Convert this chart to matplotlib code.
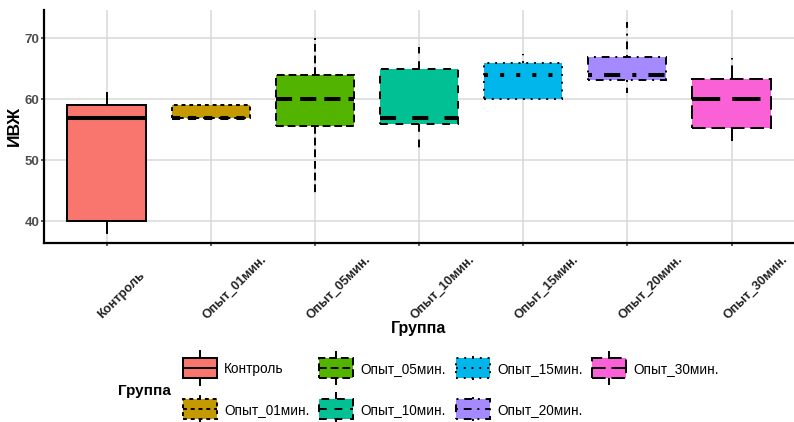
import matplotlib
matplotlib.use("Agg")
import matplotlib.pyplot as plt
from matplotlib.patches import Patch, Rectangle
from matplotlib.lines import Line2D
from matplotlib.legend_handler import HandlerBase
from matplotlib.transforms import ScaledTranslation

plt.rcParams["font.family"] = ["Liberation Sans", "DejaVu Sans"]

# Box statistics per group
groups = ["Контроль", "Опыт_01мин.", "Опыт_05мин.", "Опыт_10мин.",
          "Опыт_15мин.", "Опыт_20мин.", "Опыт_30мин."]
whislo = [38.1, 56.6, 44.1, 51.1, 60.0, 61.0, 53.2]
q1 = [40.1, 57.0, 55.7, 56.0, 60.0, 63.1, 55.3]
med = [57.0, 57.0, 60.0, 57.0, 64.0, 64.0, 60.0]
q3 = [59.0, 59.0, 64.0, 65.0, 66.0, 67.0, 63.4]
whishi = [61.0, 59.0, 70.0, 68.6, 67.4, 72.7, 66.8]

colors = ["#F8766D", "#C49A00", "#53B400", "#00C094", "#00B6EB", "#A58AFF", "#FB61D7"]
# ggplot-style line types, in units of line width
linetypes = ["-", (0, (2, 2)), (0, (4, 2)), (0, (4, 4)), (0, (1, 3)),
             (0, (1, 3, 4, 3)), (0, (7, 3))]

W, H, DPI = 794, 422, 100
PT = 72 / DPI  # points per pixel
fig = plt.figure(figsize=(W / DPI, H / DPI), dpi=DPI)
ax = fig.add_axes([44 / W, 1 - 243 / H, (W - 44) / W, (243 - 10) / H])

LW = 1.4
positions = list(range(1, len(groups) + 1))
for i, g in enumerate(groups):
    st = dict(med=med[i], q1=q1[i], q3=q3[i], whislo=whislo[i], whishi=whishi[i],
              fliers=[], label=g)
    ax.bxp([st], positions=[positions[i]], widths=0.75, patch_artist=True,
           showfliers=False, showcaps=False,
           boxprops=dict(facecolor=colors[i], edgecolor="black", linewidth=LW,
                         linestyle=linetypes[i]),
           whiskerprops=dict(color="black", linewidth=LW, linestyle=linetypes[i]),
           medianprops=dict(color="black", linewidth=2.9, linestyle=linetypes[i]))

ax.set_xlim(0.4, len(groups) + 0.6)
ax.set_ylim(36.45, 74.65)
ax.set_yticks([40, 50, 60, 70])
ax.set_yticklabels(["40", "50", "60", "70"], fontsize=9.5, fontweight="bold", color="#4D4D4D")
ax.set_xticks(positions)
ax.set_xticklabels(groups, fontsize=9.2, fontweight="bold", color="#222222")

ax.set_axisbelow(True)
ax.grid(True, color="#D9D9D9", linewidth=1.1)
for s in ["top", "right"]:
    ax.spines[s].set_visible(False)
for s in ["left", "bottom"]:
    ax.spines[s].set_linewidth(1.6)
    ax.spines[s].set_color("black")
ax.tick_params(axis="both", length=2.2, width=1.1, color="#333333")
ax.tick_params(axis="y", pad=1)
ax.tick_params(axis="x", pad=0)

offset = ScaledTranslation(-4 / DPI, -73 / DPI, fig.dpi_scale_trans)
for lab in ax.get_xticklabels():
    lab.set_rotation(45)
    lab.set_rotation_mode("anchor")
    lab.set_ha("left")
    lab.set_va("baseline")
    lab.set_transform(lab.get_transform() + offset)

ax.set_xlabel("Группа", fontsize=11.5, fontweight="bold")
ax.xaxis.set_label_coords(0.5, (243 - 328) / 233)
ax.xaxis.label.set_va("center")
fig.text(14 / W, 1 - 126 / H, "ИВЖ", rotation=90, ha="center", va="center",
         fontsize=12.5, fontweight="bold")

BOX_H = 20 * PT
WHISK = 7 * PT


class BoxKey(HandlerBase):
    def create_artists(self, legend, orig_handle, xdescent, ydescent,
                       width, height, fontsize, trans):
        ls = orig_handle.get_linestyle()
        fc = orig_handle.get_facecolor()
        x0 = -xdescent
        yc = -ydescent + height / 2
        yb, yt = yc - BOX_H / 2, yc + BOX_H / 2
        rect = Rectangle((x0, yb), width, BOX_H, facecolor=fc, edgecolor="black",
                         linewidth=LW, linestyle=ls, transform=trans)
        xm = x0 + width / 2
        med_line = Line2D([x0, x0 + width], [yc, yc], color="black",
                          linewidth=LW, linestyle=ls, transform=trans)
        w_top = Line2D([xm, xm], [yt, yt + WHISK], color="black",
                       linewidth=LW, linestyle=ls, transform=trans)
        w_bot = Line2D([xm, xm], [yb, yb - WHISK], color="black",
                       linewidth=LW, linestyle=ls, transform=trans)
        return [w_top, w_bot, rect, med_line]


handles = [Patch(facecolor=colors[i], edgecolor="black", linestyle=linetypes[i])
           for i in range(len(groups))]
FS = 9.8
fs_px = FS * DPI / 72
fig.legend(handles, groups, handler_map={Patch: BoxKey()}, ncol=4,
           loc="upper left", bbox_to_anchor=(183 / W, 1 - 362 / H),
           frameon=False, fontsize=FS, borderpad=0, borderaxespad=0,
           handlelength=34 / fs_px, handleheight=1.0,
           handletextpad=7 / fs_px, labelspacing=27 / fs_px,
           columnspacing=10 / fs_px)
fig.text(118 / W, 1 - 391 / H, "Группа", ha="left", va="center",
         fontsize=11, fontweight="bold")

fig.savefig("out.png", dpi=DPI)
